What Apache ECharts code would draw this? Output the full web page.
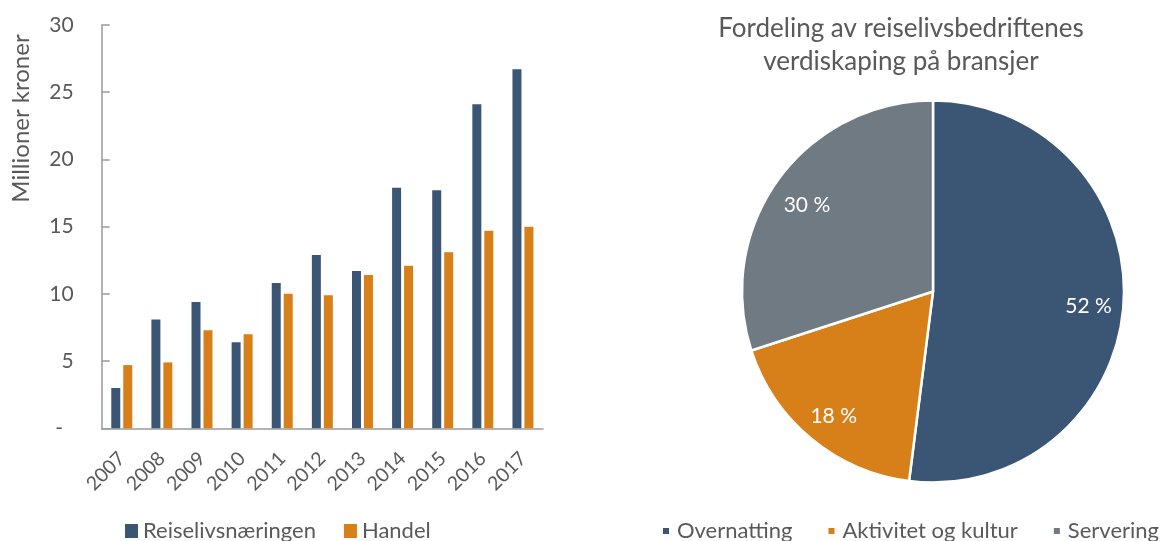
<!DOCTYPE html>
<html>
<head>
<meta charset="utf-8">
<script src="https://cdn.jsdelivr.net/npm/echarts@6/dist/echarts.min.js"></script>
<style>
html,body{margin:0;padding:0;background:#fff;}
#chart{width:1160px;height:541px;}
</style>
</head>
<body>
<div id="chart"></div>
<script>
// ---- data ----
const years = ['2007','2008','2009','2010','2011','2012','2013','2014','2015','2016','2017'];
const reiseliv = [3.0, 8.1, 9.4, 6.4, 10.8, 12.9, 11.7, 17.9, 17.7, 24.1, 26.7];
const handel   = [4.7, 4.9, 7.3, 7.0, 10.0, 9.9, 11.4, 12.1, 13.1, 14.7, 15.0];
const barSeriesNames = ['Reiselivsnæringen', 'Handel'];
const pieNames = ['Overnatting', 'Aktivitet og kultur', 'Servering'];
const pieValues = [52, 18, 30];
const yTicks = { min: 0, max: 30, interval: 5 };

// ---- styles ----
const FONT = 'Lato';
const TXT = '#595959';
const AX = '#9a9a9a';
const colBlue = '#3B5675';
const colOrange = '#D77F19';
const colGray = '#707A83';
const pieColors = [colBlue, colOrange, colGray];

const pieData = pieNames.map((n, i) => ({ name: n, value: pieValues[i], itemStyle: { color: pieColors[i] } }));
const pieCenter = [933, 291.5];
const pieR = 191;

const chart = echarts.init(document.getElementById('chart'), null, { renderer: 'canvas' });
chart.setOption({
  backgroundColor: '#fff',
  animation: false,
  textStyle: { fontFamily: FONT },
  title: {
    text: 'Fordeling av reiselivsbedriftenes\nverdiskaping på bransjer',
    left: 901, top: 12, padding: 0,
    textAlign: 'center',
    textStyle: { fontFamily: FONT, fontSize: 26, fontWeight: 'normal', color: TXT, lineHeight: 33 }
  },
  graphic: [{
    type: 'text',
    x: 21, y: 118.5,
    rotation: Math.PI / 2,
    style: { text: 'Millioner kroner', font: '24px Lato', fill: TXT, align: 'center', verticalAlign: 'middle' }
  }],
  legend: [{
    data: barSeriesNames,
    left: 120, top: 515,
    itemWidth: 13, itemHeight: 14, itemGap: 28,
    icon: 'rect',
    textStyle: { fontFamily: FONT, fontSize: 22, color: TXT }
  }, {
    data: pieNames.map((n, i) => ({ name: n, itemStyle: { color: pieColors[i] } })),
    left: 656, top: 515, width: 700,
    itemWidth: 8, itemHeight: 8, itemGap: 34,
    icon: 'rect',
    textStyle: { fontFamily: FONT, fontSize: 22, color: TXT, padding: [0, 0, 0, 2] }
  }],
  grid: { left: 101.7, right: 617, top: 25, bottom: 112.7, containLabel: false },
  xAxis: {
    type: 'category',
    data: years,
    axisLine: { show: true, lineStyle: { color: AX, width: 1.5 } },
    axisTick: { show: false },
    axisLabel: { rotate: 45, margin: 27, fontFamily: FONT, fontSize: 19.5, color: TXT, interval: 0 }
  },
  yAxis: {
    type: 'value',
    min: yTicks.min, max: yTicks.max, interval: yTicks.interval,
    axisLine: { show: true, lineStyle: { color: AX, width: 1.5 } },
    axisTick: { show: true, inside: true, length: 8, lineStyle: { color: AX, width: 1.5 } },
    splitLine: { show: false },
    axisLabel: {
      margin: 28, fontFamily: FONT, fontSize: 21, color: TXT,
      formatter: v => v === 0 ? '-  ' : String(v)
    }
  },
  series: [{
    name: barSeriesNames[0],
    type: 'bar',
    data: reiseliv,
    barWidth: 9,
    barGap: '33%',
    itemStyle: { color: colBlue }
  }, {
    name: barSeriesNames[1],
    type: 'bar',
    data: handel,
    barWidth: 9,
    barGap: '33%',
    itemStyle: { color: colOrange }
  }, {
    name: 'Fordeling',
    type: 'pie',
    center: pieCenter,
    radius: pieR,
    startAngle: 90,
    clockwise: true,
    data: pieData,
    label: { show: false },
    labelLine: { show: false },
    itemStyle: { borderColor: '#fff', borderWidth: 2.5 },
    emphasis: { disabled: true }
  }, {
    name: 'FordelingLabels',
    type: 'pie',
    center: [pieCenter[0], pieCenter[1] + 5],
    radius: [pieR * 0.6, pieR],
    startAngle: 90,
    clockwise: true,
    silent: true,
    z: 5,
    data: pieData.map(d => ({ name: d.name, value: d.value, itemStyle: { color: 'rgba(0,0,0,0)' } })),
    itemStyle: { borderWidth: 0 },
    label: {
      show: true, position: 'inside',
      fontFamily: FONT, fontSize: 21, color: '#fff',
      formatter: p => Math.round(p.percent) + ' %'
    },
    labelLine: { show: false },
    emphasis: { disabled: true }
  }]
});
</script>
</body>
</html>
